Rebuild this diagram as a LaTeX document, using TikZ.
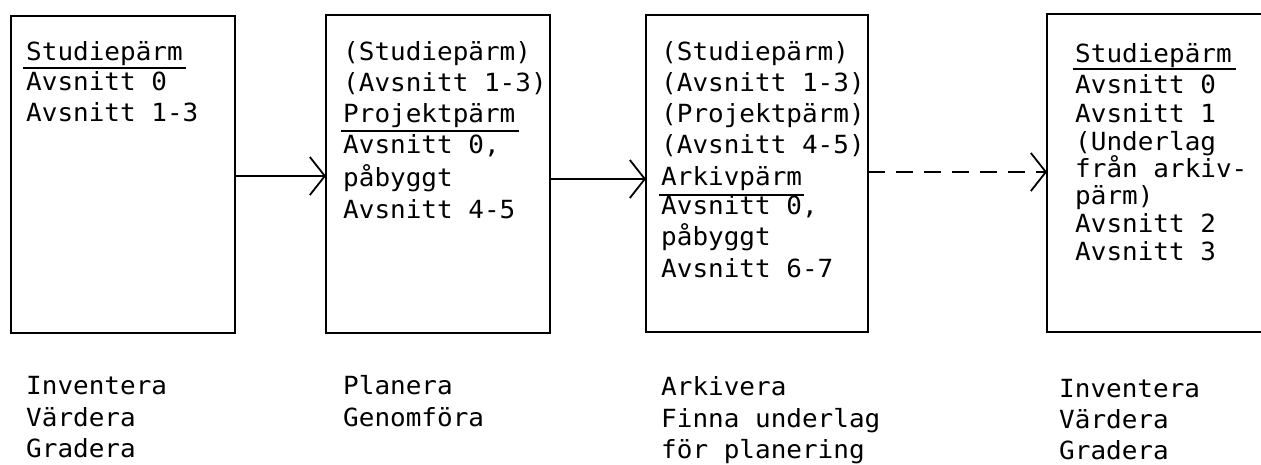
\documentclass[tikz,border=0pt]{standalone}
\usepackage{fontspec}
\newfontfamily\twfont{DejaVu Sans Mono}[FakeStretch=1.04]
\usetikzlibrary{arrows.meta}
\newcommand\komma{,}
\newcommand\lpar{(}
\newcommand\rpar{)}
\begin{document}
\begin{tikzpicture}[x=1pt,y=-1pt,
  box/.style={draw, line width=2.6pt, rectangle, inner sep=0pt, outer sep=0pt, anchor=north west},
  txt/.style={anchor=base west, inner sep=0pt, font=\twfont\fontsize{25}{25}\selectfont},
  arr/.style={line width=1.8pt, -{Straight Barb[length=15pt,width=38pt,line width=1.8pt]}},
  uline/.style={line width=1.6pt}]
\useasboundingbox (0,0) rectangle (1261,464);
% boxes
\node[box, minimum width=224pt, minimum height=317pt] (b1) at (11,16) {};
\node[box, minimum width=224pt, minimum height=318pt] (b2) at (326,15) {};
\node[box, minimum width=222pt, minimum height=317pt] (b3) at (646,15) {};
\begin{scope}
\clip (0,0) rectangle (1261,464);
\node[box, minimum width=260pt, minimum height=318pt] (b4) at (1047,14) {};
\end{scope}
% box 1 text
\foreach \t/\yy [count=\i] in {Studiepärm/60, Avsnitt 0/90, Avsnitt 1-3/121}
  \node[txt] (ta\i) at (26,\yy) {\t};
\draw[uline] (23,68) -- (186,68);
% box 2 text
\foreach \t/\yy [count=\i] in {\lpar Studiepärm\rpar/60, \lpar Avsnitt 1-3\rpar/91, Projektpärm/122, Avsnitt 0\komma/153, påbyggt/186, Avsnitt 4-5/218}
  \node[txt] (tb\i) at (343,\yy) {\t};
\draw[uline] (341,131) -- (519,131);
% box 3 text
\foreach \t/\yy [count=\i] in {\lpar Studiepärm\rpar/60, \lpar Avsnitt 1-3\rpar/91, \lpar Projektpärm\rpar/122, \lpar Avsnitt 4-5\rpar/153, Arkivpärm/185, Avsnitt 0\komma/214, påbyggt/245, Avsnitt 6-7/277}
  \node[txt] (tc\i) at (661,\yy) {\t};
\draw[uline] (659,195) -- (804,195);
% box 4 text
\foreach \t/\yy [count=\i] in {Studiepärm/62, Avsnitt 0/93, Avsnitt 1/122, \lpar Underlag/150, från arkiv-/177, pärm\rpar/204, Avsnitt 2/232, Avsnitt 3/260}
  \node[txt] (td\i) at (1075,\yy) {\t};
\draw[uline] (1073,69) -- (1236,69);
% labels below
\foreach \t/\yy [count=\i] in {Inventera/394, Värdera/426, Gradera/457}
  \node[txt] (la\i) at (26,\yy) {\t};
\foreach \t/\yy [count=\i] in {Planera/394, Genomföra/426}
  \node[txt] (lb\i) at (343,\yy) {\t};
\foreach \t/\yy [count=\i] in {Arkivera/395, Finna underlag/427, för planering/458}
  \node[txt] (lc\i) at (661,\yy) {\t};
\foreach \t/\yy [count=\i] in {Inventera/397, Värdera/428, Gradera/459}
  \node[txt] (ld\i) at (1059,\yy) {\t};
% arrows
\draw[arr] (b1.east |- 0,176) -- (b2.west |- 0,176);
\draw[arr] (b2.east |- 0,179) -- (b3.west |- 0,179);
\draw[arr, dash pattern=on 17pt off 11pt] (b3.east |- 0,172) -- (b4.west |- 0,172);
\end{tikzpicture}
\end{document}
